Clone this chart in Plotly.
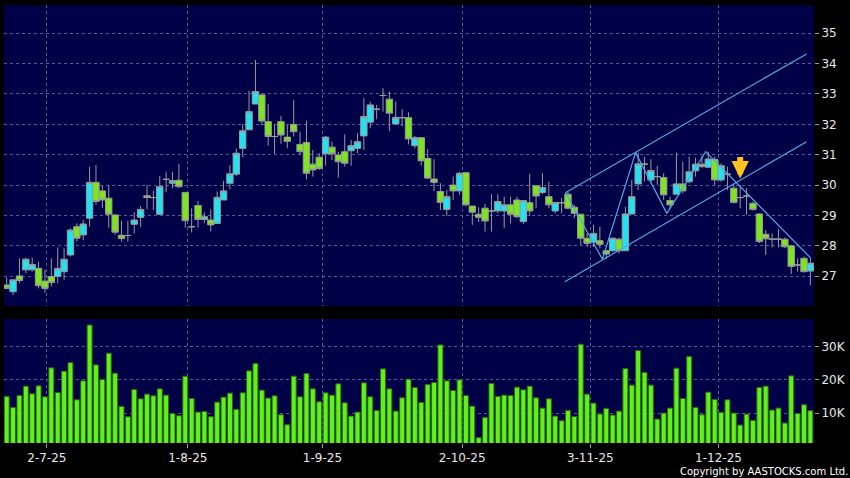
import plotly.graph_objects as go

# ---- data ----
opens = [26.71, 26.49, 27.01, 27.21, 27.21, 27.26, 26.84, 26.99, 26.99, 27.15,
         27.70, 28.63, 28.36, 28.91, 30.09, 29.81, 29.57, 29.02, 28.35, 28.34,
         28.71, 28.94, 29.65, 29.59, 29.04, 30.19, 30.06, 30.16, 29.76, 28.63,
         29.33, 28.87, 28.85, 28.74, 29.51, 30.06, 30.36, 31.21, 31.82, 32.67,
         32.97, 32.09, 31.60, 32.09, 31.58, 32.00, 31.34, 31.40, 30.69, 30.92,
         31.03, 31.25, 30.99, 31.10, 31.13, 31.21, 31.62, 32.07, 32.50, 32.95,
         32.83, 32.01, 32.22, 32.22, 31.30, 31.56, 30.88, 30.20, 29.79, 29.20,
         30.00, 29.81, 30.41, 29.31, 29.04, 29.24, 29.15, 29.15, 29.15, 29.35,
         29.51, 28.80, 29.42, 29.98, 29.76, 29.62, 29.15, 29.42, 29.70, 29.27,
         29.04, 28.25, 28.12, 28.17, 27.84, 27.84, 28.22, 27.84, 29.05, 30.04,
         30.69, 30.17, 30.28, 30.25, 29.49, 29.70, 30.04, 30.11, 30.47, 30.69,
         30.59, 30.85, 30.17, 30.36, 29.90, 29.59, 29.64, 29.40, 29.05, 28.38,
         28.22, 28.22, 28.22, 28.00, 27.37, 27.59, 27.17]
highs = [26.96, 26.90, 27.59, 27.61, 27.61, 27.48, 27.21, 27.59, 27.95, 27.92,
         28.58, 28.74, 28.85, 30.61, 30.66, 30.00, 30.00, 29.02, 28.83, 28.83,
         29.11, 29.31, 30.00, 29.81, 30.30, 30.44, 30.44, 30.70, 29.76, 29.24,
         29.48, 29.10, 29.20, 29.79, 30.14, 30.66, 31.21, 32.01, 33.11, 34.12,
         33.02, 32.67, 32.01, 32.28, 31.98, 32.80, 31.76, 32.11, 31.16, 31.05,
         31.62, 31.43, 31.10, 31.67, 31.49, 31.71, 32.86, 32.75, 32.64, 33.19,
         33.08, 32.75, 32.50, 32.40, 31.62, 31.56, 31.19, 30.85, 30.06, 29.84,
         30.28, 30.44, 30.41, 29.31, 29.27, 29.38, 29.70, 29.70, 29.62, 29.62,
         29.62, 29.49, 30.37, 29.98, 30.39, 30.11, 29.43, 29.57, 29.77, 29.35,
         29.04, 28.41, 28.69, 28.63, 27.84, 28.28, 28.28, 29.29, 30.17, 31.07,
         30.92, 30.85, 30.63, 30.39, 29.62, 31.07, 30.77, 30.94, 30.90, 30.97,
         31.10, 30.94, 30.72, 30.61, 30.06, 30.00, 29.90, 29.46, 29.07, 28.52,
         28.41, 28.55, 28.28, 28.03, 27.59, 27.65, 27.59]
lows = [26.57, 26.38, 26.77, 27.10, 27.15, 26.60, 26.46, 26.66, 26.77, 26.88,
        27.65, 28.14, 28.19, 28.63, 29.35, 29.24, 28.60, 28.36, 28.14, 28.14,
        28.41, 28.63, 29.20, 29.18, 29.02, 29.76, 29.90, 29.90, 28.60, 28.44,
        28.60, 28.75, 28.47, 28.72, 29.51, 29.86, 30.30, 30.92, 31.82, 32.67,
        31.98, 31.30, 31.03, 31.36, 31.21, 31.60, 30.99, 30.19, 30.28, 30.50,
        30.64, 30.83, 30.25, 30.61, 30.64, 31.05, 31.16, 31.87, 32.17, 32.42,
        31.78, 32.01, 31.93, 31.34, 31.21, 30.64, 30.20, 29.81, 29.18, 28.98,
        29.51, 29.68, 29.30, 28.69, 28.78, 28.47, 28.47, 29.07, 28.58, 28.74,
        28.91, 28.72, 28.98, 29.24, 29.70, 29.24, 29.07, 29.07, 29.20, 28.91,
        28.03, 27.97, 27.97, 27.92, 27.56, 27.80, 27.75, 27.84, 29.02, 29.84,
        30.12, 30.06, 30.01, 29.51, 29.24, 29.70, 29.73, 30.06, 30.28, 30.56,
        30.56, 30.00, 30.11, 29.84, 29.40, 29.24, 29.02, 29.16, 28.09, 27.70,
        27.95, 27.95, 27.92, 27.07, 27.15, 27.12, 26.71]
closes = [26.60, 26.88, 26.86, 27.56, 27.39, 26.69, 26.60, 26.79, 27.26, 27.56,
          28.52, 28.25, 28.72, 30.09, 29.46, 29.51, 29.04, 28.45, 28.24, 28.34,
          28.85, 29.20, 29.59, 29.59, 29.95, 30.19, 30.15, 29.95, 28.83, 28.63,
          28.87, 28.96, 28.69, 29.60, 29.81, 30.37, 31.05, 31.79, 32.42, 33.08,
          32.11, 31.60, 31.60, 31.65, 31.44, 31.76, 31.10, 30.39, 30.50, 30.55,
          31.58, 31.03, 30.77, 30.72, 31.30, 31.43, 32.26, 32.64, 32.50, 32.95,
          32.37, 32.23, 32.22, 31.52, 31.56, 30.80, 30.23, 30.09, 29.43, 29.62,
          29.81, 30.39, 29.35, 29.11, 28.94, 28.82, 29.15, 29.46, 29.35, 29.04,
          28.96, 29.49, 29.15, 29.64, 29.92, 29.35, 29.43, 29.42, 29.24, 29.07,
          28.25, 28.08, 28.41, 28.05, 27.73, 28.25, 27.84, 29.05, 29.62, 30.70,
          30.69, 30.48, 30.28, 29.68, 29.35, 30.04, 29.81, 30.44, 30.69, 30.61,
          30.86, 30.17, 30.64, 30.36, 29.43, 29.59, 29.64, 29.20, 28.14, 28.23,
          28.22, 28.22, 27.97, 27.32, 27.37, 27.15, 27.43]
volumes_k = [15.0, 11.7, 15.3, 18.1, 15.8, 18.2, 14.9, 23.6, 16.2, 22.6,
             25.2, 14.0, 19.7, 36.5, 24.5, 20.1, 28.0, 22.0, 12.0, 8.9,
             17.1, 14.3, 15.7, 15.2, 17.3, 15.4, 9.9, 9.2, 21.1, 14.4,
             10.3, 10.5, 8.9, 13.3, 14.8, 16.0, 11.1, 16.1, 22.7, 24.9,
             16.9, 14.5, 15.2, 9.5, 6.5, 21.1, 14.9, 21.9, 17.3, 13.4,
             16.1, 15.4, 18.8, 13.1, 9.1, 10.3, 19.1, 14.9, 10.8, 23.3,
             17.3, 10.6, 14.6, 20.2, 17.7, 13.2, 18.6, 19.2, 30.5, 19.7,
             16.8, 20.0, 15.3, 12.1, 2.6, 8.7, 18.9, 15.0, 15.4, 15.3,
             17.8, 17.0, 18.1, 14.6, 11.5, 14.3, 9.1, 7.7, 10.8, 9.0,
             30.7, 15.7, 13.0, 9.7, 11.4, 9.4, 10.6, 23.4, 18.4, 28.8,
             22.2, 18.4, 8.2, 10.0, 11.5, 23.5, 14.4, 27.0, 11.7, 9.5,
             16.3, 14.1, 10.2, 14.0, 10.0, 6.4, 9.7, 7.8, 17.7, 18.1,
             10.9, 11.5, 7.0, 21.2, 9.9, 12.5, 10.7]

tick_pos = [6.3, 28.4, 49.5, 71.4, 91.5, 111.6]
tick_text = ["2-7-25", "1-8-25", "1-9-25", "2-10-25", "3-11-25", "1-12-25"]
price_ticks = [27, 28, 29, 30, 31, 32, 33, 34, 35]
vol_ticks = [10000, 20000, 30000]
vol_tick_text = ["10K", "20K", "30K"]

channel_upper_x = [87.6, 125.4]
channel_upper_y = [29.75, 34.32]
channel_lower_x = [87.5, 125.4]
channel_lower_y = [26.82, 31.43]
zigzag_x = [87.6, 93.4, 98.6, 103.5, 109.6, 126.1]
zigzag_y = [29.75, 27.56, 31.07, 29.07, 31.10, 27.59]
signal_x = 115.0
signal_y = 30.22

x = list(range(len(opens)))
volumes = [v * 1000 for v in volumes_k]

# ---- styles ----
BG = "#000046"
GRID = "#5a5a96"
TXT = "#e8e8e8"
LINE_BLUE = "#4fa8e6"
FONT = "DejaVu Sans"

fig = go.Figure()
fig.add_trace(go.Candlestick(
    x=x, open=opens, high=highs, low=lows, close=closes,
    increasing=dict(fillcolor="#22e2f2", line=dict(color="#9a9a9a", width=1)),
    decreasing=dict(fillcolor="#7ee41f", line=dict(color="#9a9a9a", width=1)),
    whiskerwidth=0, xaxis="x", yaxis="y", hoverinfo="skip",
))
for lx, ly in [(channel_upper_x, channel_upper_y), (channel_lower_x, channel_lower_y), (zigzag_x, zigzag_y)]:
    fig.add_trace(go.Scatter(x=lx, y=ly, mode="lines", line=dict(color=LINE_BLUE, width=1.2),
                             xaxis="x", yaxis="y", hoverinfo="skip"))
fig.add_trace(go.Bar(
    x=x, y=volumes, marker=dict(color="#62f01c", line=dict(color="#2a6a0e", width=1)),
    xaxis="x2", yaxis="y2", hoverinfo="skip",
))

xr = [-0.42, 126.57]
axis_common = dict(showgrid=True, gridcolor=GRID, griddash="3px,3px", gridwidth=1,
                   zeroline=False, showline=False)
fig.update_layout(
    width=850, height=478,
    margin=dict(l=4, r=32, t=5, b=35, pad=0),
    paper_bgcolor="#000000", plot_bgcolor=BG,
    showlegend=False, bargap=0.22, boxgap=0.0, boxgroupgap=0.0,
    font=dict(family=FONT, size=12, color=TXT),
    xaxis=dict(domain=[0, 1], anchor="y", range=xr, tickvals=tick_pos, showticklabels=False,
               ticks="", rangeslider=dict(visible=False), **axis_common),
    xaxis2=dict(domain=[0, 1], anchor="y2", range=xr, tickvals=tick_pos, ticktext=tick_text,
                ticks="outside", ticklen=4, tickcolor="#9a9a9a",
                tickfont=dict(family=FONT, size=12, color=TXT), **axis_common),
    yaxis=dict(domain=[0.3128, 1], anchor="x", side="right", range=[26.02, 35.93],
               tickvals=price_ticks, ticks="outside", ticklen=4, tickcolor="#9a9a9a",
               tickfont=dict(family=FONT, size=12, color=TXT), **axis_common),
    yaxis2=dict(domain=[0, 0.2831], anchor="x2", side="right", range=[1000, 38300],
                tickvals=vol_ticks, ticktext=vol_tick_text, ticks="outside", ticklen=4,
                tickcolor="#9a9a9a", tickfont=dict(family=FONT, size=12, color=TXT), **axis_common),
)
fig.add_annotation(x=signal_x, y=signal_y, xref="x", yref="y", ax=0, ay=-23, text="",
                   showarrow=True, arrowhead=2, arrowwidth=6, arrowsize=0.58,
                   arrowcolor="#ffc21e", standoff=0)
fig.add_annotation(x=1.045, y=-0.064, xref="paper", yref="paper", xanchor="right", yanchor="middle",
                   text="Copyright by AASTOCKS.com Ltd.", showarrow=False,
                   font=dict(family=FONT, size=10, color="#ffffff"))

fig.write_html("out.html", config={"displayModeBar": False},
               post_script="document.body.style.margin='0px';document.body.style.background='#000';")
